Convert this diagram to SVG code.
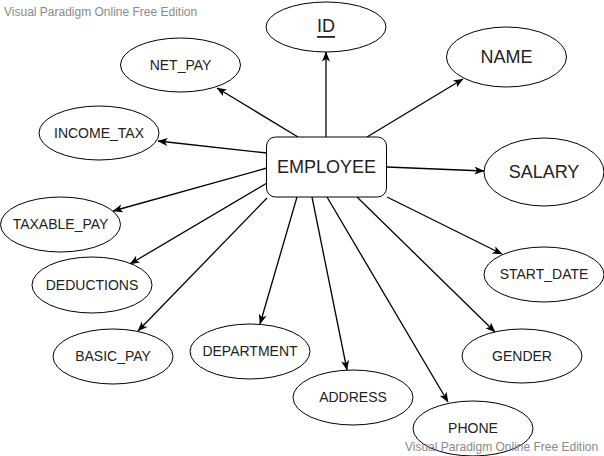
<svg xmlns="http://www.w3.org/2000/svg" width="604" height="456" viewBox="0 0 604 456">
<style>
  .node ellipse, .node rect { fill: #ffffff; stroke: #000000; stroke-width: 1; }
  .node text { font-family: "Liberation Sans", Arial, sans-serif; font-size: 14px; fill: #222222; text-anchor: middle; dominant-baseline: central; }
  .node text.big { font-size: 18px; }
  .edges line { stroke: #000000; stroke-width: 1.3; marker-end: url(#arrow); }
  .wm { font-family: "Liberation Sans", Arial, sans-serif; font-size: 12px; fill: #8a8a8a; }
</style>
<defs>
  <marker id="arrow" markerUnits="userSpaceOnUse" markerWidth="10" markerHeight="10" viewBox="0 0 10 8" refX="9.5" refY="4" orient="auto">
    <path d="M0,0 L10,4 L0,8 L2.5,4 z" fill="#000000"/>
  </marker>
</defs>
<rect width="604" height="456" fill="#ffffff"/>
<text class="wm" x="4" y="16">Visual Paradigm Online Free Edition</text>

<g class="edges">
  <line x1="326" y1="137" x2="326" y2="52"/>
  <line x1="367" y1="137" x2="463" y2="79"/>
  <line x1="387" y1="167" x2="484" y2="171"/>
  <line x1="387" y1="197" x2="502" y2="254"/>
  <line x1="357" y1="197" x2="495" y2="332"/>
  <line x1="327" y1="197" x2="448" y2="402"/>
  <line x1="312" y1="197" x2="347" y2="370"/>
  <line x1="297" y1="197" x2="260" y2="324"/>
  <line x1="267" y1="198" x2="138" y2="331"/>
  <line x1="267" y1="183" x2="130" y2="264"/>
  <line x1="267" y1="168" x2="113" y2="211"/>
  <line x1="267" y1="153" x2="158" y2="141"/>
  <line x1="298" y1="137" x2="217" y2="88"/>
</g>

<g id="employee" class="node">
  <rect x="266.5" y="137" width="120" height="60" rx="9" ry="9"/>
  <text class="big" x="326.5" y="167">EMPLOYEE</text>
</g>
<g id="id" class="node">
  <ellipse cx="326" cy="27" rx="60" ry="25"/>
  <text class="big" x="326" y="26" text-decoration="underline">ID</text>
</g>
<g id="name" class="node">
  <ellipse cx="506.5" cy="57" rx="60" ry="30"/>
  <text class="big" x="506.5" y="57">NAME</text>
</g>
<g id="salary" class="node">
  <ellipse cx="544" cy="172" rx="60" ry="34"/>
  <text class="big" x="544" y="172">SALARY</text>
</g>
<g id="start_date" class="node">
  <ellipse cx="544" cy="274.5" rx="60" ry="27.5"/>
  <text x="544" y="274">START_DATE</text>
</g>
<g id="gender" class="node">
  <ellipse cx="522" cy="356" rx="60" ry="27"/>
  <text x="522" y="356">GENDER</text>
</g>
<g id="phone" class="node">
  <ellipse cx="473" cy="428.5" rx="60" ry="27.5"/>
  <text x="473" y="428">PHONE</text>
</g>
<g id="address" class="node">
  <ellipse cx="353" cy="397.5" rx="60" ry="27.5"/>
  <text x="353" y="397">ADDRESS</text>
</g>
<g id="department" class="node">
  <ellipse cx="250" cy="351.5" rx="60" ry="27.5"/>
  <text x="250" y="351">DEPARTMENT</text>
</g>
<g id="basic_pay" class="node">
  <ellipse cx="113" cy="356.5" rx="60" ry="27.5"/>
  <text x="113" y="356">BASIC_PAY</text>
</g>
<g id="deductions" class="node">
  <ellipse cx="92" cy="285" rx="60" ry="28"/>
  <text x="92" y="285">DEDUCTIONS</text>
</g>
<g id="taxable_pay" class="node">
  <ellipse cx="60.5" cy="224.5" rx="60" ry="27.5"/>
  <text x="60.5" y="224">TAXABLE_PAY</text>
</g>
<g id="income_tax" class="node">
  <ellipse cx="99" cy="133" rx="60" ry="27"/>
  <text x="99" y="133">INCOME_TAX</text>
</g>
<g id="net_pay" class="node">
  <ellipse cx="180.5" cy="65" rx="60" ry="27"/>
  <text x="180.5" y="65">NET_PAY</text>
</g>

<text class="wm" x="405" y="451">Visual Paradigm Online Free Edition</text>
</svg>
